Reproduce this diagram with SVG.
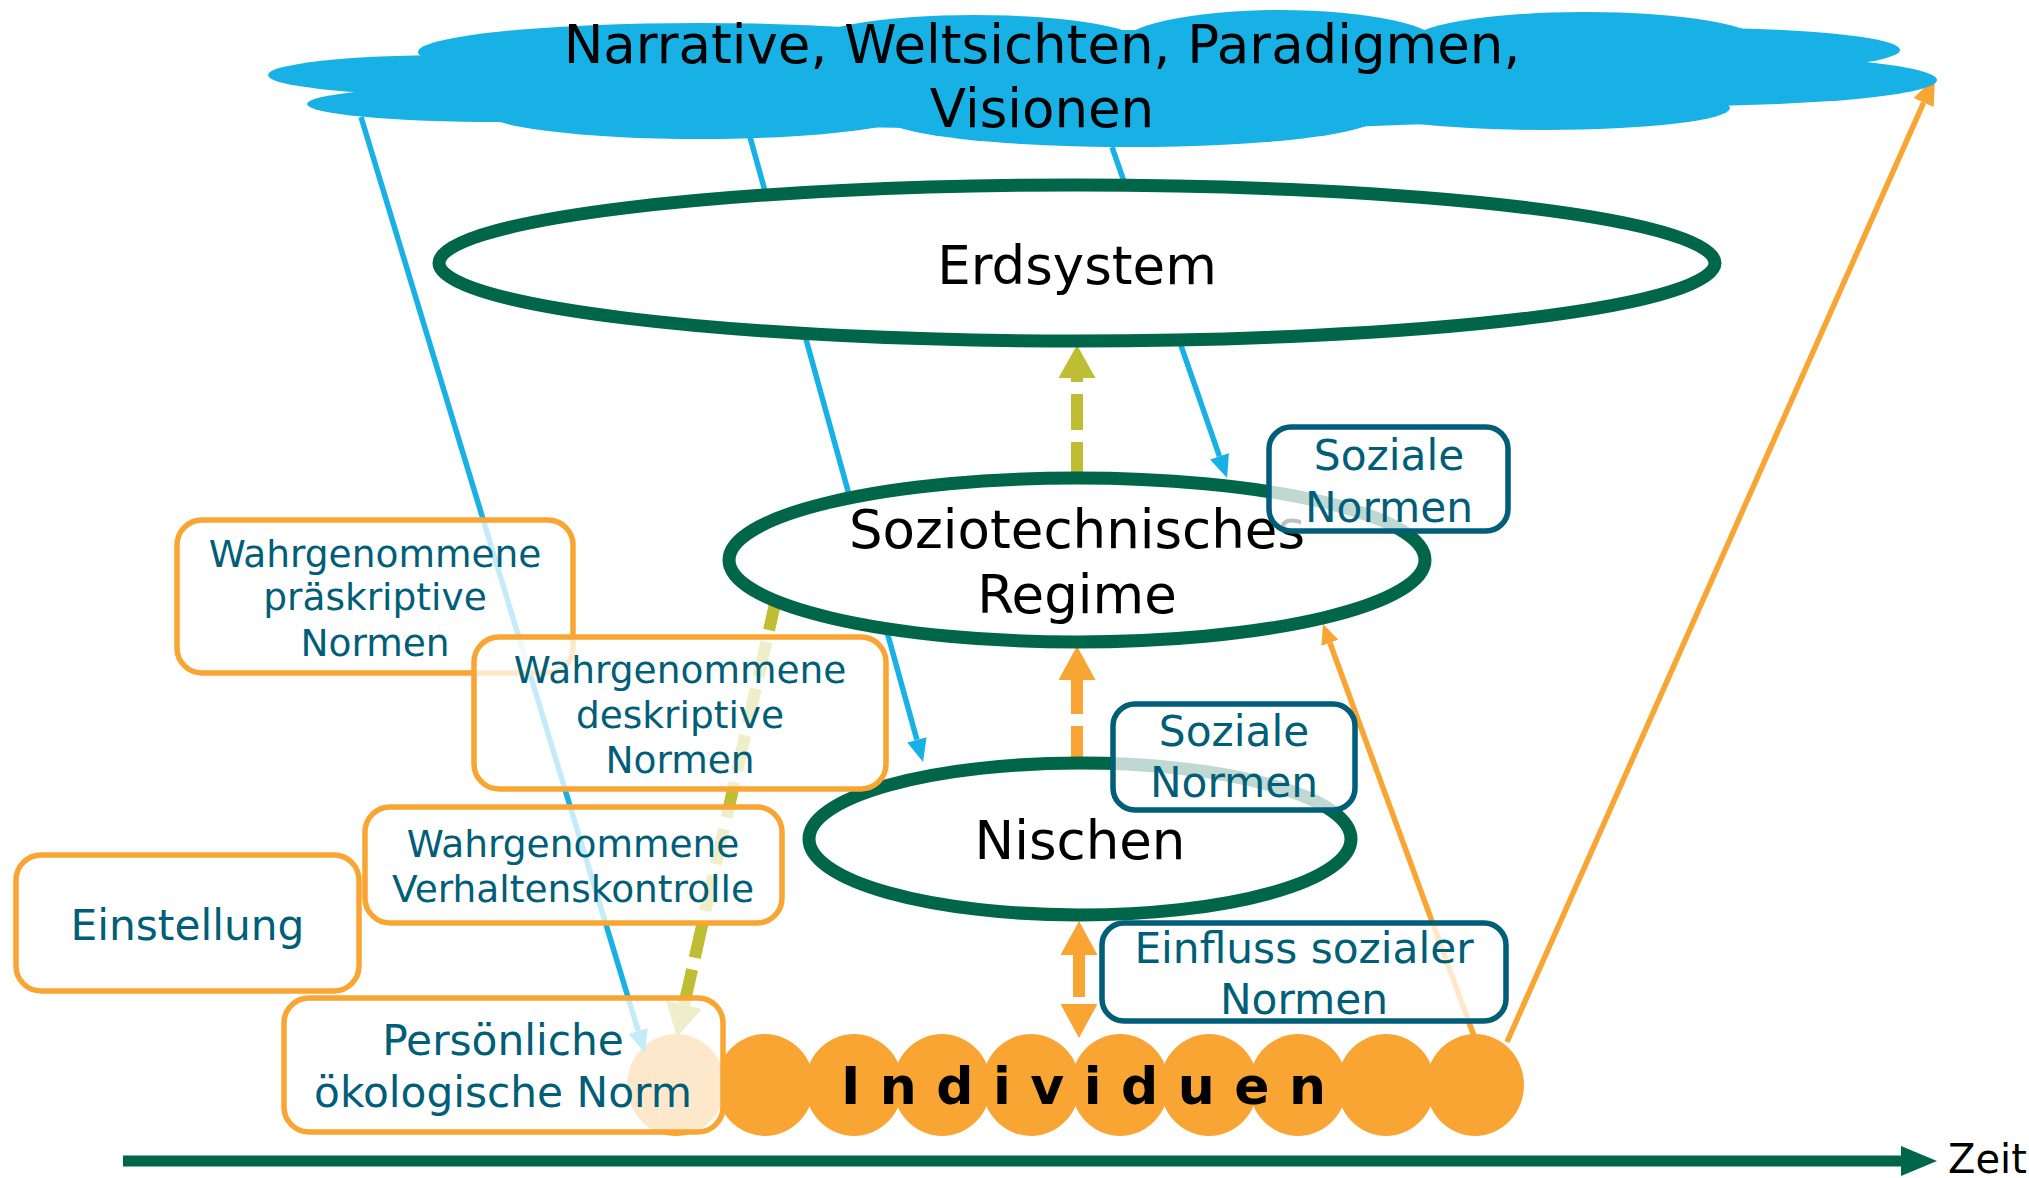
<svg xmlns="http://www.w3.org/2000/svg" width="2029" height="1178" viewBox="0 0 2029 1178">
<style>
.lbl{font-family:"DejaVu Sans",Verdana,sans-serif;fill:#000;text-anchor:middle;font-size:53px}
.bt{font-family:"DejaVu Sans",Verdana,sans-serif;fill:#005e78;text-anchor:middle}
.s35{font-size:37.5px}
.s41{font-size:42.3px}
.ell{fill:#fff;stroke:#00664a;stroke-width:13}
.obox{fill:#fff;fill-opacity:0.75;stroke:#f9a533;stroke-width:5.5}
.bbox{fill:#fff;fill-opacity:0.75;stroke:#005e78;stroke-width:5.5}
.blue{stroke:#17b1e5;stroke-width:5.5;fill:none}
.oth{stroke:#f9a533;stroke-width:5.5;fill:none}
.dash{stroke-width:12;stroke-dasharray:36 12;fill:none}
.circ{fill:#f9a533}
.cloud ellipse{fill:#17b1e5}
</style>
<defs>
<marker id="mb" markerUnits="userSpaceOnUse" viewBox="0 0 23 20" refX="0" refY="10" markerWidth="23" markerHeight="20" orient="auto"><path d="M0,0 L23,10 L0,20 z" fill="#17b1e5"/></marker>
<marker id="mo" markerUnits="userSpaceOnUse" viewBox="0 0 20 18" refX="0" refY="9" markerWidth="20" markerHeight="18" orient="auto"><path d="M0,0 L20,9 L0,18 z" fill="#f9a533"/></marker>
<marker id="mo2" markerUnits="userSpaceOnUse" viewBox="0 0 28 22" refX="0" refY="11" markerWidth="28" markerHeight="22" orient="auto"><path d="M0,0 L28,11 L0,22 z" fill="#f9a533"/></marker>
<marker id="my" markerUnits="userSpaceOnUse" viewBox="0 0 33 37" refX="0" refY="18.5" markerWidth="33" markerHeight="37" orient="auto"><path d="M0,0 L33,18.5 L0,37 z" fill="#bfbd33"/></marker>
<marker id="mO" markerUnits="userSpaceOnUse" viewBox="0 0 34 37" refX="0" refY="18.5" markerWidth="34" markerHeight="37" orient="auto-start-reverse"><path d="M0,0 L34,18.5 L0,37 z" fill="#f9a533"/></marker>
<marker id="mg" markerUnits="userSpaceOnUse" viewBox="0 0 36 30" refX="0" refY="15" markerWidth="36" markerHeight="30" orient="auto"><path d="M0,0 L36,15 L0,30 z" fill="#00664a"/></marker>
</defs>

<g id="zeitachse">
<line x1="123" y1="1161" x2="1901" y2="1161" stroke="#00664a" stroke-width="11" marker-end="url(#mg)"/>
<text x="1948" y="1173" font-family="DejaVu Sans,Verdana,sans-serif" font-size="40" fill="#000">Zeit</text>
</g>

<g id="individuen">
<ellipse class="circ" cx="676" cy="1085" rx="49" ry="51"/>
<ellipse class="circ" cx="765" cy="1085" rx="49" ry="51"/>
<ellipse class="circ" cx="854" cy="1085" rx="49" ry="51"/>
<ellipse class="circ" cx="942" cy="1085" rx="49" ry="51"/>
<ellipse class="circ" cx="1031" cy="1085" rx="49" ry="51"/>
<ellipse class="circ" cx="1120" cy="1085" rx="49" ry="51"/>
<ellipse class="circ" cx="1209" cy="1085" rx="49" ry="51"/>
<ellipse class="circ" cx="1298" cy="1085" rx="49" ry="51"/>
<ellipse class="circ" cx="1386" cy="1085" rx="49" ry="51"/>
<ellipse class="circ" cx="1475" cy="1085" rx="49" ry="51"/>
<text x="841" y="1104" font-family="DejaVu Sans,Verdana,sans-serif" font-weight="bold" font-size="52" fill="#000" textLength="485" lengthAdjust="spacing">Individuen</text>
</g>

<g id="connectors">
<line class="blue" x1="361" y1="117" x2="638.3" y2="1031" marker-end="url(#mb)"/>
<line class="blue" x1="750" y1="137" x2="916.9" y2="739.8" marker-end="url(#mb)"/>
<line class="blue" x1="1112" y1="147" x2="1219.5" y2="456.3" marker-end="url(#mb)"/>
<line class="dash" stroke="#bfbd33" x1="1077" y1="478" x2="1077" y2="378" marker-end="url(#my)"/>
<line class="dash" stroke="#f9a533" x1="1077" y1="762" x2="1077" y2="680" marker-end="url(#mO)"/>
<line stroke="#f9a533" stroke-width="12" stroke-dasharray="42 20" x1="1079" y1="955" x2="1079" y2="1004" marker-start="url(#mO)" marker-end="url(#mO)"/>
<line class="dash" stroke="#bfbd33" x1="777" y1="595" x2="684.1" y2="1004.8" marker-end="url(#my)"/>
<line class="oth" x1="1474" y1="1036" x2="1329.9" y2="642.8" marker-end="url(#mo)"/>
<line class="oth" x1="1507" y1="1042" x2="1923.6" y2="102.6" marker-end="url(#mo2)"/>
</g>

<g id="narrative" class="cloud">
<ellipse cx="450" cy="75" rx="182" ry="20"/>
<ellipse cx="500" cy="104" rx="193" ry="18"/>
<ellipse cx="700" cy="52" rx="282" ry="29"/>
<ellipse cx="700" cy="112" rx="215" ry="27"/>
<ellipse cx="1130" cy="118" rx="245" ry="29"/>
<ellipse cx="1545" cy="108" rx="185" ry="22"/>
<ellipse cx="975" cy="45" rx="170" ry="30"/>
<ellipse cx="1280" cy="45" rx="160" ry="35"/>
<ellipse cx="1585" cy="42" rx="175" ry="30"/>
<ellipse cx="1700" cy="50" rx="200" ry="22"/>
<ellipse cx="1680" cy="80" rx="257" ry="26"/>
<ellipse cx="1100" cy="80" rx="700" ry="50"/>
<text class="lbl" x="1042" y="63" font-size="52.5">Narrative, Weltsichten, Paradigmen,</text>
<text class="lbl" x="1042" y="127" font-size="52.5">Visionen</text>
</g>

<g id="erdsystem">
<ellipse class="ell" cx="1077" cy="263" rx="638" ry="78"/>
<text class="lbl" x="1077" y="284">Erdsystem</text>
</g>

<g id="regime">
<ellipse class="ell" cx="1077" cy="560" rx="348" ry="82"/>
<text class="lbl" x="1077" y="548">Soziotechnisches</text>
<text class="lbl" x="1077" y="613">Regime</text>
</g>

<g id="nischen">
<ellipse class="ell" cx="1080" cy="839" rx="271" ry="76"/>
<text class="lbl" x="1080" y="859">Nischen</text>
</g>

<g id="praeskriptive-normen">
<rect class="obox" x="177" y="520" width="396" height="153" rx="25"/>
<text class="bt s35" x="375" y="567">Wahrgenommene</text>
<text class="bt s35" x="375" y="610">präskriptive</text>
<text class="bt s35" x="375" y="656">Normen</text>
</g>

<g id="deskriptive-normen">
<rect class="obox" x="474" y="637" width="412" height="152" rx="25"/>
<text class="bt s35" x="680" y="683">Wahrgenommene</text>
<text class="bt s35" x="680" y="728">deskriptive</text>
<text class="bt s35" x="680" y="773">Normen</text>
</g>

<g id="verhaltenskontrolle">
<rect class="obox" x="365" y="807" width="417" height="116" rx="25"/>
<text class="bt s35" x="573" y="857">Wahrgenommene</text>
<text class="bt s35" x="573" y="902">Verhaltenskontrolle</text>
</g>

<g id="einstellung">
<rect class="obox" x="16" y="855" width="343" height="136" rx="25"/>
<text class="bt s41" x="187.5" y="940">Einstellung</text>
</g>

<g id="persoenliche-norm">
<rect class="obox" x="284" y="998" width="439" height="134" rx="25"/>
<text class="bt s41" x="503" y="1055">Persönliche</text>
<text class="bt s41" x="503" y="1107">ökologische Norm</text>
</g>

<g id="soziale-normen-regime">
<rect class="bbox" x="1269" y="427" width="239" height="104" rx="22"/>
<text class="bt s41" x="1389" y="470">Soziale</text>
<text class="bt s41" x="1389" y="522">Normen</text>
</g>

<g id="soziale-normen-nischen">
<rect class="bbox" x="1113" y="704" width="242" height="106" rx="22"/>
<text class="bt s41" x="1234" y="746">Soziale</text>
<text class="bt s41" x="1234" y="797">Normen</text>
</g>

<g id="einfluss-sozialer-normen">
<rect class="bbox" x="1102" y="923" width="404" height="98" rx="22"/>
<text class="bt s41" x="1304" y="963">Einfluss sozialer</text>
<text class="bt s41" x="1304" y="1014">Normen</text>
</g>
</svg>
